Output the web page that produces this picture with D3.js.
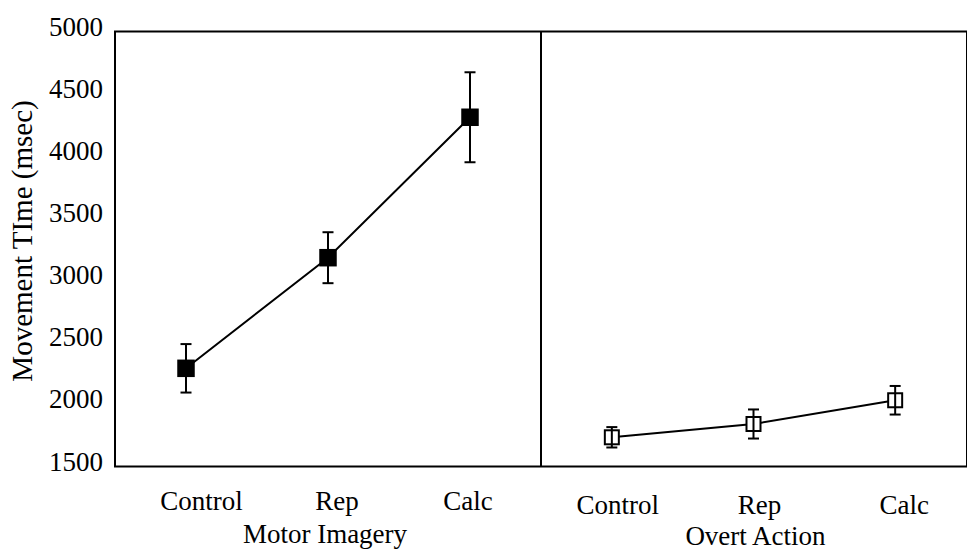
<!DOCTYPE html>
<html>
<head>
<meta charset="utf-8">
<script src="https://cdn.jsdelivr.net/npm/d3@7"></script>
<style>
  html, body { margin: 0; padding: 0; background: #fff; }
  svg { display: block; }
  text { font-family: "Liberation Serif", "Times New Roman", serif; fill: #000; }
</style>
</head>
<body>
<svg id="chart" width="967" height="550"></svg>
<script>
// ---- data ----
const categories = ["Control", "Rep", "Calc"];
const panels = ["Motor Imagery", "Overt Action"];
const imageryMeans = [2290, 3180, 4310];
const imageryErrors = [195, 205, 362];
const overtMeans = [1735, 1842, 2033];
const overtErrors = [82, 117, 115];
const yTicks = [1500, 2000, 2500, 3000, 3500, 4000, 4500, 5000];
const yLabel = "Movement TIme (msec)";

// ---- layout ----
(function () {
const svg = d3.select("#chart");
const pLeft = 115, pMid = 541, pRight = 966, pTop = 31.5, pBottom = 466.5;

const y = d3.scaleLinear().domain([1500, 5000]).range([pBottom, pTop]);
const xL = d3.scaleBand().domain(categories).range([pLeft, pMid]);
const xR = d3.scaleBand().domain(categories).range([pMid, pRight]);

// y tick labels
svg.append("g").selectAll("text").data(yTicks).join("text")
  .attr("x", 103).attr("y", d => y(d) + 4)
  .attr("text-anchor", "end").attr("font-size", 27)
  .text(d => d);

// y label
svg.append("text")
  .attr("transform", `translate(32,241) rotate(-90)`)
  .attr("text-anchor", "middle").attr("font-size", 29)
  .text(yLabel);

// frame
svg.append("rect").attr("x", pLeft).attr("y", pTop)
  .attr("width", pRight - pLeft + 1).attr("height", pBottom - pTop)
  .attr("fill", "none").attr("stroke", "#000").attr("stroke-width", 2);
svg.append("line").attr("x1", pMid).attr("x2", pMid).attr("y1", pTop).attr("y2", pBottom)
  .attr("stroke", "#000").attr("stroke-width", 2);

function drawPanel(x, means, errs, filled, labelDx, labelY, titleY, title) {
  const cx = c => x(c) + x.bandwidth() / 2;
  const pts = categories.map((c, i) => ({ c, m: means[i], e: errs[i] }));
  const g = svg.append("g");
  g.append("path").datum(pts)
    .attr("d", d3.line().x(d => cx(d.c)).y(d => y(d.m)))
    .attr("fill", "none").attr("stroke", "#000").attr("stroke-width", 2);
  const s = filled ? 17.5 : 14;
  if (!filled) {
    g.selectAll("rect.m").data(pts).join("rect").attr("class", "m")
      .attr("x", d => cx(d.c) - s / 2).attr("y", d => y(d.m) - s / 2)
      .attr("width", s).attr("height", s)
      .attr("fill", "#fff").attr("stroke", "#000").attr("stroke-width", 2);
  }
  const eb = g.selectAll("g.eb").data(pts).join("g").attr("class", "eb");
  eb.append("line").attr("x1", d => cx(d.c)).attr("x2", d => cx(d.c))
    .attr("y1", d => y(d.m - d.e)).attr("y2", d => y(d.m + d.e))
    .attr("stroke", "#000").attr("stroke-width", 2);
  [1, -1].forEach(sg => {
    eb.append("line").attr("x1", d => cx(d.c) - 5.5).attr("x2", d => cx(d.c) + 5.5)
      .attr("y1", d => y(d.m + sg * d.e)).attr("y2", d => y(d.m + sg * d.e))
      .attr("stroke", "#000").attr("stroke-width", 2);
  });
  if (filled) {
    g.selectAll("rect.m").data(pts).join("rect").attr("class", "m")
      .attr("x", d => cx(d.c) - s / 2).attr("y", d => y(d.m) - s / 2)
      .attr("width", s).attr("height", s).attr("fill", "#000");
  }
  g.selectAll("text.cat").data(categories).join("text").attr("class", "cat")
    .attr("x", (c, i) => cx(c) + labelDx[i]).attr("y", labelY)
    .attr("text-anchor", "middle").attr("font-size", 27).text(c => c);
  const [r0, r1] = x.range();
  g.append("text").attr("x", (r0 + r1) / 2 + (filled ? -3 : 2)).attr("y", titleY)
    .attr("text-anchor", "middle").attr("font-size", 27).text(title);
}

drawPanel(xL, imageryMeans, imageryErrors, true, [15.5, 9, -2], 510, 543, panels[0]);
drawPanel(xR, overtMeans, overtErrors, false, [6, 6, 9], 514, 545, panels[1]);
})();
</script>
</body>
</html>
